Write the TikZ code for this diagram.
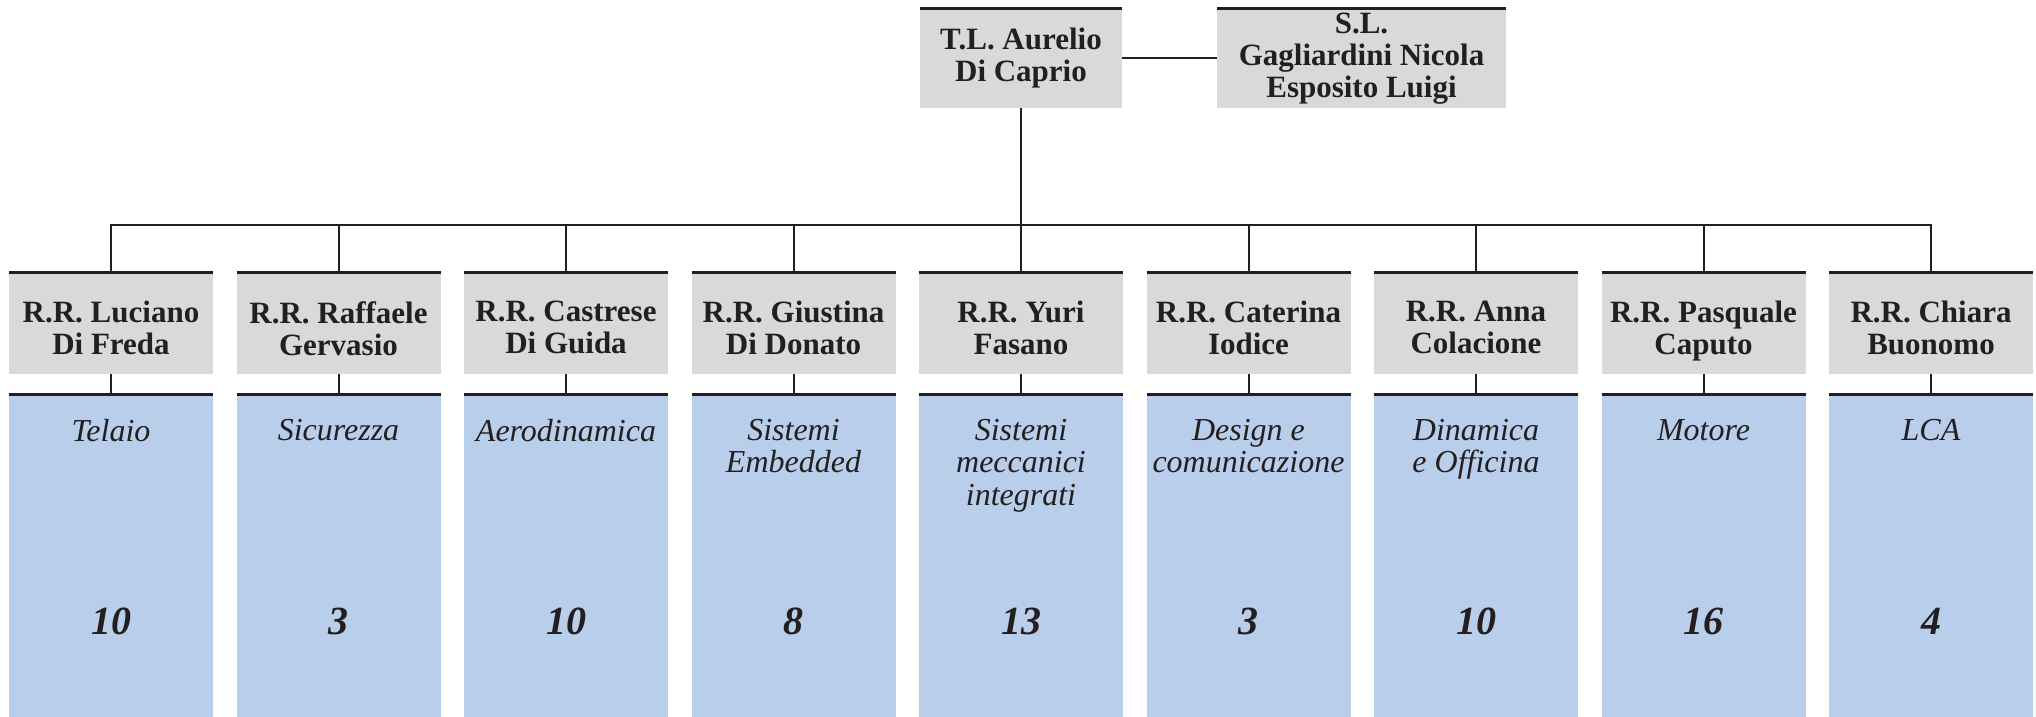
\documentclass[tikz,border=0pt]{standalone}
\usepackage{fontspec}
\setmainfont{Liberation Serif}
\definecolor{inkc}{HTML}{231F20}
\definecolor{boxgray}{HTML}{D9D9D9}
\definecolor{boxblue}{HTML}{B8CEEA}

\begin{document}
\begin{tikzpicture}[x=1pt,y=1pt,
  conn/.style={draw=inkc, line width=2pt},
  topline/.style={draw=inkc, line width=3pt},
  graybox/.style={fill=boxgray, minimum width=204pt, minimum height=101pt, inner sep=0pt, outer sep=0pt},
  bluebox/.style={fill=boxblue, minimum width=204pt, minimum height=322pt, inner sep=0pt, outer sep=0pt},
  nametext/.style={align=center, font=\fontsize{31}{32}\selectfont\bfseries, text=inkc, inner sep=0pt},
  areatext/.style={align=center, font=\fontsize{32}{32.5}\selectfont\itshape, text=inkc, inner sep=0pt, anchor=north},
  counttext/.style={font=\fontsize{40}{44}\selectfont\bfseries\itshape, text=inkc, inner sep=0pt}]

\useasboundingbox (0,0) rectangle (2036,717);

% team leader and section leaders
\node[graybox, minimum width=202pt, minimum height=99pt] (tl) at (1021,658.5) {};
\node[nametext] (tltext) at (tl.center) {T.L. Aurelio\\Di Caprio};
\node[graybox, minimum width=289pt, minimum height=99pt] (sl) at (1361.5,658.5) {};
\node[nametext] (sltext) at (sl.center) {S.L.\\Gagliardini Nicola\\Esposito Luigi};
\draw[topline] (tl.north west) -- (tl.north east);
\draw[topline] (sl.north west) -- (sl.north east);
\draw[conn] (tl.east) -- (sl.west);

\coordinate (bus) at (1021,492);

% one column per area: responsible, area name, head count
\foreach \i/\who/\area/\n in {
  1/{R.R. Luciano\\Di Freda}/{Telaio}/10,
  2/{R.R. Raffaele\\Gervasio}/{Sicurezza}/3,
  3/{R.R. Castrese\\Di Guida}/{Aerodinamica}/10,
  4/{R.R. Giustina\\Di Donato}/{Sistemi\\Embedded}/8,
  5/{R.R. Yuri\\Fasano}/{Sistemi\\meccanici\\integrati}/13,
  6/{R.R. Caterina\\Iodice}/{Design e\\comunicazione}/3,
  7/{R.R. Anna\\Colacione}/{Dinamica\\e Officina}/10,
  8/{R.R. Pasquale\\Caputo}/{Motore}/16,
  9/{R.R. Chiara\\Buonomo}/{LCA}/4} {
  \pgfmathsetmacro\cx{111+227.5*(\i-1)}
  \node[graybox] (g\i) at (\cx,393.5) {};
  \node[nametext, anchor=north] (gt\i) at (\cx,416) {\who};
  \node[bluebox] (b\i) at (\cx,161) {};
  \node[areatext] (a\i) at (\cx,298) {\area};
  \node[counttext] (c\i) at (\cx,96) {\n};
  \draw[conn] (g\i.south) -- (b\i.north);
  \draw[topline] (g\i.north west) -- (g\i.north east);
  \draw[topline] (b\i.north west) -- (b\i.north east);
}

% connectors from the team leader to every column
\draw[conn] (tl.south) -- (tl.south |- bus);
\draw[conn] (g1.north) -- (g1.north |- bus) -| (g9.north);
\foreach \i in {2,...,8} {
  \draw[conn] (g\i.north) -- (g\i.north |- bus);
}
\end{tikzpicture}
\end{document}
